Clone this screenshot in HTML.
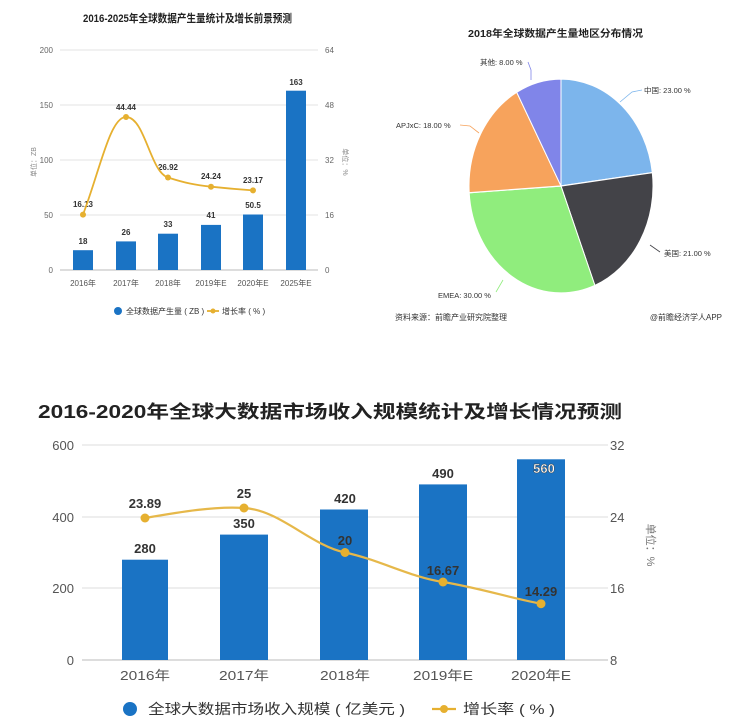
<!DOCTYPE html>
<html><head><meta charset="utf-8"><style>
body{margin:0;background:#fff;}
svg{display:block;font-family:"Liberation Sans","Noto Sans CJK SC",sans-serif;}
</style></head><body>
<svg width="736" height="721" viewBox="0 0 736 721" xmlns="http://www.w3.org/2000/svg">
<rect width="736" height="721" fill="#fff"/>
<!-- Top-left chart -->
<text x="83" y="22" font-size="11" font-weight="bold" fill="#222" textLength="209" lengthAdjust="spacingAndGlyphs">2016-2025年全球数据产生量统计及增长前景预测</text>
<g stroke="#e3e3e3" stroke-width="1">
<line x1="60" y1="50" x2="318" y2="50"/><line x1="60" y1="105" x2="318" y2="105"/><line x1="60" y1="160" x2="318" y2="160"/><line x1="60" y1="215" x2="318" y2="215"/>
</g>
<line x1="60" y1="270" x2="318" y2="270" stroke="#bbb"/>
<g font-size="8" fill="#666" text-anchor="end">
<text x="53" y="53">200</text><text x="53" y="108">150</text><text x="53" y="163">100</text><text x="53" y="218">50</text><text x="53" y="273">0</text>
</g>
<g font-size="8" fill="#666">
<text x="325" y="53">64</text><text x="325" y="108">48</text><text x="325" y="163">32</text><text x="325" y="218">16</text><text x="325" y="273">0</text>
</g>
<text transform="translate(36,162) rotate(-90)" font-size="7" fill="#888" text-anchor="middle">单位：ZB</text>
<text transform="translate(343,162) rotate(90)" font-size="7" fill="#888" text-anchor="middle">单位：%</text>
<g fill="#1a73c4">
<rect x="73" y="250.2" width="20" height="19.8"/><rect x="116" y="241.4" width="20" height="28.6"/><rect x="158" y="233.7" width="20" height="36.3"/><rect x="201" y="224.9" width="20" height="45.1"/><rect x="243" y="214.5" width="20" height="55.5"/><rect x="286" y="90.7" width="20" height="179.3"/>
</g>
<g font-size="8" font-weight="bold" fill="#333" text-anchor="middle">
<text x="83" y="244">18</text><text x="126" y="235">26</text><text x="168" y="227">33</text><text x="211" y="218">41</text><text x="253" y="208">50.5</text><text x="296" y="85">163</text>
<text x="83" y="207">16.13</text><text x="126" y="110">44.44</text><text x="168" y="170">26.92</text><text x="211" y="179">24.24</text><text x="253" y="183">23.17</text>
</g>
<path d="M83,214.6 C100,170 110,117 126,117 C145,117 150,172 168,177.5 C185,183 195,185 211,186.7 C228,188.5 240,189.5 253,190.4" fill="none" stroke="#e6b030" stroke-width="1.8"/>
<g fill="#e6b030"><circle cx="83" cy="214.6" r="3"/><circle cx="126" cy="117" r="3"/><circle cx="168" cy="177.5" r="3"/><circle cx="211" cy="186.7" r="3"/><circle cx="253" cy="190.4" r="3"/></g>
<g font-size="8" fill="#555" text-anchor="middle">
<text x="83" y="286">2016年</text><text x="126" y="286">2017年</text><text x="168" y="286">2018年</text><text x="211" y="286">2019年E</text><text x="253" y="286">2020年E</text><text x="296" y="286">2025年E</text>
</g>
<circle cx="118" cy="311" r="4" fill="#1a73c4"/>
<text x="126" y="314" font-size="8" fill="#333">全球数据产生量 ( ZB )</text>
<line x1="207" y1="311" x2="219" y2="311" stroke="#e6b030" stroke-width="1.8"/><circle cx="213" cy="311" r="2.5" fill="#e6b030"/>
<text x="222" y="314" font-size="8" fill="#333">增长率 ( % )</text>

<!-- Pie -->
<text x="468" y="37" font-size="10" font-weight="bold" fill="#222" textLength="175" lengthAdjust="spacingAndGlyphs">2018年全球数据产生量地区分布情况</text>
<g transform="translate(561,186) scale(1,1.163)" stroke="#fff" stroke-width="1">
<path d="M0,0 L0,-92 A92,92 0 0 1 91.3,-11.5 Z" fill="#7cb5ec"/>
<path d="M0,0 L91.3,-11.5 A92,92 0 0 1 33.9,85.5 Z" fill="#434348"/>
<path d="M0,0 L33.9,85.5 A92,92 0 0 1 -91.8,5.8 Z" fill="#90ed7d"/>
<path d="M0,0 L-91.8,5.8 A92,92 0 0 1 -44.3,-80.6 Z" fill="#f7a35c"/>
<path d="M0,0 L-44.3,-80.6 A92,92 0 0 1 0,-92 Z" fill="#8085e9"/>
</g>
<g fill="none" stroke-width="0.8">
<path d="M531,80 L531,70 L528,62" stroke="#8085e9"/>
<path d="M620,102 L632,92 L642,90" stroke="#7cb5ec"/>
<path d="M479,133 L470,126 L460,125" stroke="#f7a35c"/>
<path d="M650,245 L660,252" stroke="#434348"/>
<path d="M503,280 L496,292" stroke="#90ed7d"/>
</g>
<g font-size="7.5" fill="#333">
<text x="480" y="65">其他: 8.00 %</text>
<text x="644" y="93">中国: 23.00 %</text>
<text x="396" y="128">APJxC: 18.00 %</text>
<text x="664" y="256">美国: 21.00 %</text>
<text x="438" y="298">EMEA: 30.00 %</text>
</g>
<text x="395" y="320" font-size="8" fill="#333">资料来源：前瞻产业研究院整理</text>
<text x="722" y="320" font-size="8" fill="#333" text-anchor="end">@前瞻经济学人APP</text>

<!-- Bottom chart -->
<text x="38" y="418" font-size="18" font-weight="bold" fill="#222" textLength="584" lengthAdjust="spacingAndGlyphs">2016-2020年全球大数据市场收入规模统计及增长情况预测</text>
<g stroke="#ddd" stroke-width="1">
<line x1="82" y1="445" x2="608" y2="445"/><line x1="82" y1="517" x2="608" y2="517"/><line x1="82" y1="588" x2="608" y2="588"/>
</g>
<line x1="82" y1="660" x2="608" y2="660" stroke="#bbb"/>
<g font-size="13" fill="#555" text-anchor="end">
<text x="74" y="450">600</text><text x="74" y="522">400</text><text x="74" y="593">200</text><text x="74" y="665">0</text>
</g>
<g font-size="13" fill="#555">
<text x="610" y="450">32</text><text x="610" y="522">24</text><text x="610" y="593">16</text><text x="610" y="665">8</text>
</g>
<text transform="translate(647,545) rotate(90)" font-size="11" fill="#777" text-anchor="middle">单位：%</text>
<g fill="#1a73c4">
<rect x="122" y="559.7" width="46" height="100.3"/><rect x="220" y="534.6" width="48" height="125.4"/><rect x="320" y="509.5" width="48" height="150.5"/><rect x="419" y="484.4" width="48" height="175.6"/><rect x="517" y="459.3" width="48" height="200.7"/>
</g>
<g font-size="13" font-weight="bold" fill="#333" text-anchor="middle">
<text x="145" y="553">280</text><text x="244" y="528">350</text><text x="345" y="503">420</text><text x="443" y="478">490</text><text x="544" y="473" fill="#fff" stroke="#333" stroke-width="0.4">560</text>
<text x="145" y="508">23.89</text><text x="244" y="498">25</text><text x="345" y="545">20</text><text x="443" y="575">16.67</text><text x="541" y="596">14.29</text>
</g>
<path d="M145,518 C180,512 215,506 244,508 C280,510 310,545 345,552.5 C380,560 410,577 443,582 C480,588 510,598 541,603.7" fill="none" stroke="#e6b84a" stroke-width="2.2"/>
<g fill="#e6b030"><circle cx="145" cy="518" r="4.5"/><circle cx="244" cy="508" r="4.5"/><circle cx="345" cy="552.5" r="4.5"/><circle cx="443" cy="582" r="4.5"/><circle cx="541" cy="603.7" r="4.5"/></g>
<g font-size="13" fill="#555">
<text x="120" y="680" textLength="50" lengthAdjust="spacingAndGlyphs">2016年</text><text x="219" y="680" textLength="50" lengthAdjust="spacingAndGlyphs">2017年</text><text x="320" y="680" textLength="50" lengthAdjust="spacingAndGlyphs">2018年</text><text x="413" y="680" textLength="60" lengthAdjust="spacingAndGlyphs">2019年E</text><text x="511" y="680" textLength="60" lengthAdjust="spacingAndGlyphs">2020年E</text>
</g>
<circle cx="130" cy="709" r="7" fill="#1a73c4"/>
<text x="148" y="714" font-size="14" fill="#333" textLength="257" lengthAdjust="spacingAndGlyphs">全球大数据市场收入规模 ( 亿美元 )</text>
<line x1="432" y1="709" x2="456" y2="709" stroke="#e6b030" stroke-width="2.2"/><circle cx="444" cy="709" r="4" fill="#e6b030"/>
<text x="463" y="714" font-size="14" fill="#333" textLength="92" lengthAdjust="spacingAndGlyphs">增长率 ( % )</text>
</svg>
</body></html>
